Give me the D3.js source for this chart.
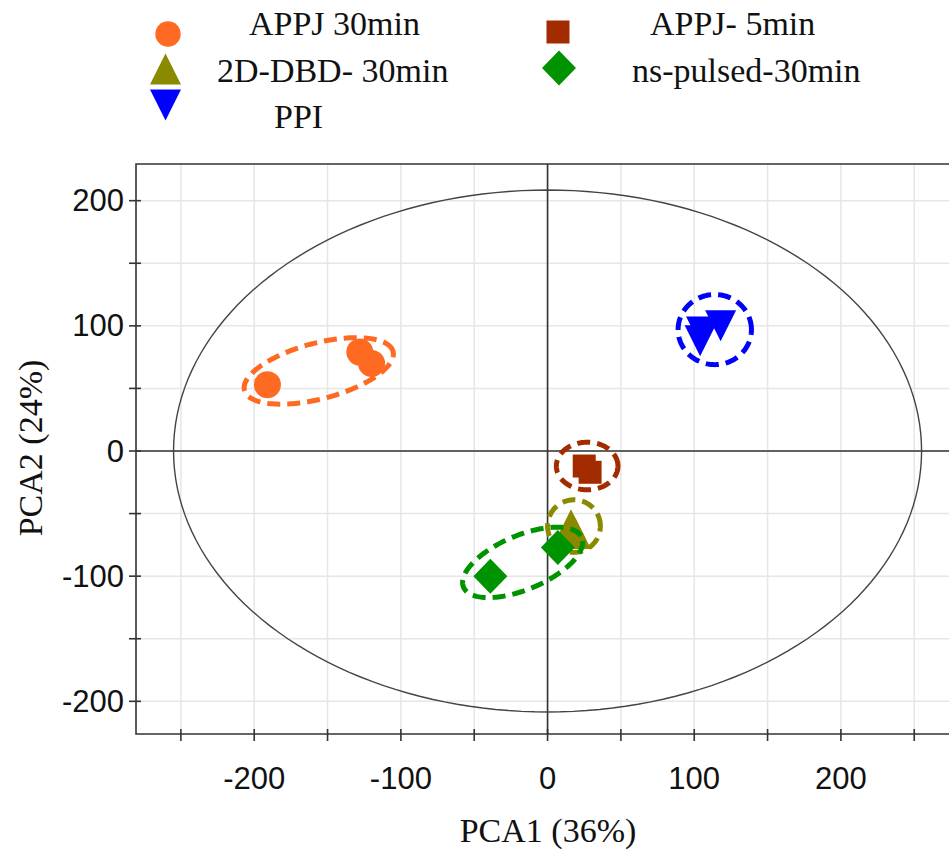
<!DOCTYPE html>
<html lang="en">
<head>
  <meta charset="UTF-8" />
  <title>PCA scores</title>
  <style>
    * { margin:0; padding:0; box-sizing:border-box; }
    body { background:#fff; width:949px; height:856px; overflow:hidden; }
    svg { display:block; }
    .tick-label { font-family:'Liberation Sans',Arial,sans-serif; font-size:31px; fill:#111; }
    .serif { font-family:'Liberation Serif','Times New Roman',serif; font-size:34px; fill:#111; }
    .grid { stroke:#e6e6e6; stroke-width:1.5px; }
    .frame { stroke:#333; stroke-width:1.6px; fill:none; }
  </style>
</head>
<body>
<script src="https://d3js.org/d3.v7.min.js"></script>
<script>
  const groups = ['APPJ 30min','APPJ- 5min','2D-DBD- 30min','ns-pulsed-30min','PPI'];
  const colors = ['#FF6A22','#A32B00','#8A8A00','#009300','#0000FF'];
  const shapes = ['circle','square','triangle','diamond','triangleDown'];
  // sample scores, one list per group
  const pc1 = [[-191,-128,-120],[25,29],[16,19],[-39,7],[105,104,118]];
  const pc2 = [[53,79,70],[-12,-17],[-59,-66],[-100,-77],[95,88,100]];
  // group confidence ellipses (PC units, rotation in degrees)
  const ellCx  = [-156, 27, 18, -17, 114];
  const ellCy  = [64, -12, -60, -89, 97];
  const ellA   = [53, 21, 18, 45, 25];
  const ellB   = [22, 19, 21, 21, 28];
  const ellRot = [18, 0, 0, 28, 0];
  // Hotelling T2 ellipse semi-axes
  const t2A = 255, t2B = 208.5;
  const xTicks = [-250,-200,-150,-100,-50,0,50,100,150,200,250];
  const yTicks = [-200,-150,-100,-50,0,50,100,150,200];
  const tickLabels = [-200,-100,0,100,200];

  const W = 949, H = 856;
  const L = 136, T = 164, B = 734;
  const svg = d3.select('body').append('svg').attr('width',W).attr('height',H);
  const x = d3.scaleLinear().domain([-280.6,273.7]).range([L,W]);
  const y = d3.scaleLinear().domain([-226.1,229.3]).range([B,T]);

  function shapePath(s, big) {
    const r = big ? 13.5 : 12.7;
    if (s==='circle') return d3.symbol(d3.symbolCircle, Math.PI*r*r)();
    if (s==='square') return 'M-11.5,-11.5H11.5V11.5H-11.5Z';
    if (s==='triangle') return 'M0,-15.5L15.5,15.5L-15.5,15.5Z';
    if (s==='triangleDown') return 'M-15.5,-15.5L15.5,-15.5L0,15.5Z';
    return 'M0,-17.5L17,0L0,17.5L-17,0Z';
  }

  function ellipsePts(cx, cy, a, b, rotDeg) {
    const r = rotDeg*Math.PI/180, pts = [];
    for (let i=0;i<180;i++) {
      const t = i/180*2*Math.PI;
      const ex = a*Math.cos(t), ey = b*Math.sin(t);
      pts.push([cx + ex*Math.cos(r) - ey*Math.sin(r), cy + ex*Math.sin(r) + ey*Math.cos(r)]);
    }
    return pts;
  }
  const line = d3.line().x(d=>x(d[0])).y(d=>y(d[1])).curve(d3.curveLinearClosed);

  // grid
  svg.append('g').selectAll('line').data(xTicks).join('line').attr('class','grid')
     .attr('x1',d=>x(d)).attr('x2',d=>x(d)).attr('y1',T).attr('y2',B);
  svg.append('g').selectAll('line').data(yTicks).join('line').attr('class','grid')
     .attr('x1',L).attr('x2',W).attr('y1',d=>y(d)).attr('y2',d=>y(d));

  // zero lines
  svg.append('line').attr('x1',x(0)).attr('x2',x(0)).attr('y1',T).attr('y2',B)
     .attr('stroke','#333').attr('stroke-width',1.6);
  svg.append('line').attr('x1',L).attr('x2',W).attr('y1',y(0)).attr('y2',y(0))
     .attr('stroke','#333').attr('stroke-width',1.6);

  // Hotelling ellipse
  svg.append('path').attr('d',line(ellipsePts(0,0,t2A,t2B,0)))
     .attr('fill','none').attr('stroke','#444').attr('stroke-width',1.4);

  // frame (left, top, bottom)
  svg.append('path').attr('class','frame').attr('d',`M${W},${T}H${L}V${B}H${W}`);

  // axis ticks crossing the frame
  svg.append('g').selectAll('line').data(xTicks).join('line')
     .attr('x1',d=>x(d)).attr('x2',d=>x(d)).attr('y1',B-5).attr('y2',B+7)
     .attr('stroke','#333').attr('stroke-width',1.6);
  svg.append('g').selectAll('line').data(yTicks).join('line')
     .attr('y1',d=>y(d)).attr('y2',d=>y(d)).attr('x1',L-7).attr('x2',L+5)
     .attr('stroke','#333').attr('stroke-width',1.6);
  svg.append('g').selectAll('text').data(tickLabels).join('text').attr('class','tick-label')
     .attr('x',d=>x(d)).attr('y',778).attr('text-anchor','middle').attr('dominant-baseline','central')
     .text(d=>d);
  svg.append('g').selectAll('text').data(tickLabels).join('text').attr('class','tick-label')
     .attr('x',L-12).attr('y',d=>y(d)).attr('text-anchor','end').attr('dominant-baseline','central')
     .text(d=>d);

  // axis titles
  svg.append('text').attr('class','serif').attr('x',548).attr('y',842)
     .attr('text-anchor','middle').text('PCA1 (36%)');
  svg.append('text').attr('class','serif')
     .attr('transform','translate(42,448) rotate(-90)')
     .attr('text-anchor','middle').text('PCA2 (24%)');

  // groups: ellipse + points
  groups.forEach((g,i)=>{
    const grp = svg.append('g');
    grp.append('path').attr('d',line(ellipsePts(ellCx[i],ellCy[i],ellA[i],ellB[i],ellRot[i])))
       .attr('fill','none').attr('stroke',colors[i]).attr('stroke-width',5)
       .attr('stroke-dasharray','13 7');
    grp.selectAll('path.pt').data(pc1[i].map((v,j)=>[v,pc2[i][j]])).join('path')
       .attr('class','pt').attr('d',shapePath(shapes[i], true))
       .attr('transform',d=>`translate(${x(d[0])},${y(d[1])})`)
       .attr('fill',colors[i]);
  });

  // legend
  const legMark = [[168,34],[558,32],[165.5,69],[559,68],[165.5,105]];
  const legText = [[249,35],[650,35],[217,82],[632,82],[274,128]];
  const leg = svg.append('g');
  groups.forEach((g,i)=>{
    leg.append('path').attr('d',shapePath(shapes[i], false))
       .attr('transform',`translate(${legMark[i][0]},${legMark[i][1]})`).attr('fill',colors[i]);
    leg.append('text').attr('class','serif').attr('x',legText[i][0]).attr('y',legText[i][1]).text(g);
  });
</script>
</body>
</html>
